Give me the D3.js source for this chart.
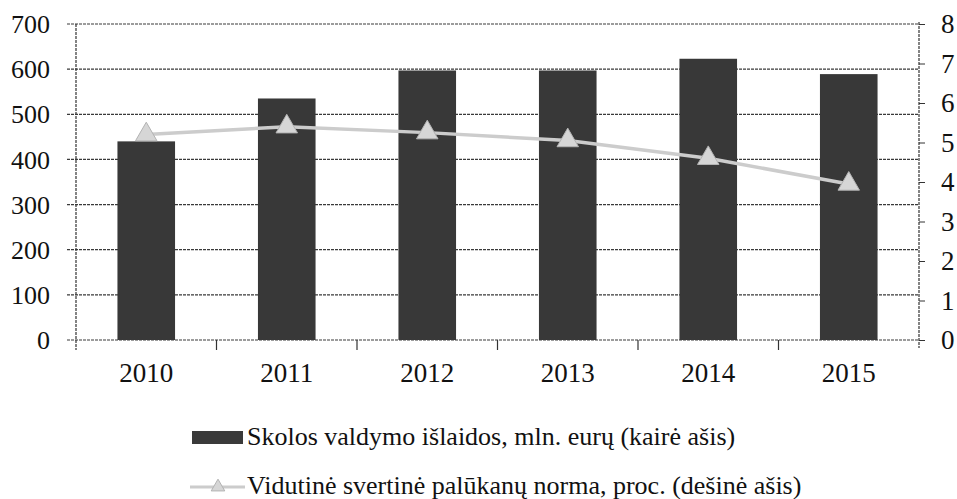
<!DOCTYPE html>
<html>
<head>
<meta charset="utf-8">
<script src="https://cdn.jsdelivr.net/npm/d3@7"></script>
<style>
  body { margin: 0; background: #fff; }
  svg text { font-family: "Liberation Serif", "DejaVu Serif", serif !important; fill: #111; }
</style>
</head>
<body>
<div id="chart"></div>
<script>
var years = ["2010", "2011", "2012", "2013", "2014", "2015"];
var costs = [440, 535, 597, 597, 623, 589];        // mln. eur, left axis
var rates = [5.2, 5.4, 5.25, 5.05, 4.6, 3.95];     // proc., right axis
var leftTicks = [0, 100, 200, 300, 400, 500, 600, 700];
var rightTicks = [0, 1, 2, 3, 4, 5, 6, 7, 8];
var legendLabels = ["Skolos valdymo išlaidos, mln. eurų (kairė ašis)",
                    "Vidutinė svertinė palūkanų norma, proc. (dešinė ašis)"];

var width = 957, height = 499;
var plotLeft = 76, plotRight = 919, plotTop = 24, plotBottom = 340;
var serif = "'Liberation Serif', 'DejaVu Serif', serif";

var svg = d3.select("#chart").append("svg")
  .attr("width", width)
  .attr("height", height)
  .style("font-family", serif);

var x = d3.scaleBand().domain(years).range([plotLeft, plotRight]).paddingInner(0.59).paddingOuter(0.295);
var yL = d3.scaleLinear().domain([0, 700]).range([plotBottom, plotTop]);
var yR = d3.scaleLinear().domain([0, 8]).range([plotBottom, plotTop]);

// gridlines
svg.append("g").selectAll("line")
  .data(leftTicks)
  .enter().append("line")
  .attr("x1", plotLeft - 9).attr("x2", plotRight)
  .attr("y1", function (d) { return yL(d); })
  .attr("y2", function (d) { return yL(d); })
  .style("stroke", "#3a3a3a")
  .style("stroke-width", 1.2)
  .style("stroke-dasharray", "3,1");

// left axis
var gL = svg.append("g").attr("transform", "translate(" + plotLeft + ",0)")
  .call(d3.axisLeft(yL).tickValues(leftTicks).tickSize(0).tickPadding(26));
gL.attr("font-family", null);
gL.select(".domain").remove();
gL.append("line").attr("y1", plotTop).attr("y2", plotBottom + 10)
  .style("stroke", "#333").style("stroke-width", 1.2).style("stroke-dasharray", "3,1");
gL.selectAll("text").style("font-size", "26px").style("font-family", serif)
  .attr("dy", "0.33em").style("fill", "#111");

// right axis
var gR = svg.append("g").attr("transform", "translate(" + plotRight + ",0)")
  .call(d3.axisRight(yR).tickValues(rightTicks).tickSize(6).tickPadding(16));
gR.attr("font-family", null);
gR.select(".domain").remove();
gR.selectAll(".tick line").style("stroke", "#333");
gR.append("line").attr("y1", plotTop - 2).attr("y2", plotBottom + 8)
  .style("stroke", "#333").style("stroke-width", 1.2).style("stroke-dasharray", "3,1");
gR.selectAll("text").style("font-size", "27px").style("font-family", serif)
  .attr("dy", "0.33em").style("fill", "#111");

// bottom axis: ticks between categories
var step = x.step();
svg.append("g").selectAll("line")
  .data(years.slice(1))
  .enter().append("line")
  .attr("x1", function (d) { return x(d) + x.bandwidth() / 2 - step / 2; })
  .attr("x2", function (d) { return x(d) + x.bandwidth() / 2 - step / 2; })
  .attr("y1", plotBottom).attr("y2", plotBottom + 10)
  .style("stroke", "#333").style("stroke-width", 1.2);

svg.append("g").selectAll("text")
  .data(years)
  .enter().append("text")
  .attr("x", function (d) { return x(d) + x.bandwidth() / 2; })
  .attr("y", 382)
  .attr("text-anchor", "middle")
  .style("font-size", "27px")
  .style("font-family", serif)
  .text(function (d) { return d; });

// bars
svg.append("g").selectAll("rect")
  .data(costs)
  .enter().append("rect")
  .attr("x", function (d, i) { return x(years[i]); })
  .attr("y", function (d) { return yL(d); })
  .attr("width", x.bandwidth())
  .attr("height", function (d) { return yL(0) - yL(d); })
  .style("fill", "#383838");

// rate line
var line = d3.line()
  .x(function (d, i) { return x(years[i]) + x.bandwidth() / 2; })
  .y(function (d) { return yR(d); });

svg.append("path")
  .datum(rates)
  .attr("d", line)
  .style("fill", "none")
  .style("stroke", "#cccccc")
  .style("stroke-width", 3.5);

var tri = d3.symbol().type(d3.symbolTriangle).size(200);
svg.append("g").selectAll("path")
  .data(rates)
  .enter().append("path")
  .attr("d", tri)
  .attr("transform", function (d, i) {
    return "translate(" + (x(years[i]) + x.bandwidth() / 2) + "," + yR(d) + ")";
  })
  .style("fill", "#d6d6d6")
  .style("stroke", "#b3b3b3")
  .style("stroke-width", 1);

// legend
var lg = svg.append("g");
lg.append("rect")
  .attr("x", 192).attr("y", 431).attr("width", 51).attr("height", 13)
  .style("fill", "#3a3a3a");
lg.append("text")
  .attr("x", 247).attr("y", 445)
  .style("font-size", "26px")
  .style("font-family", serif)
  .text(legendLabels[0]);

lg.append("line")
  .attr("x1", 190).attr("x2", 245).attr("y1", 487).attr("y2", 487)
  .style("stroke", "#cccccc").style("stroke-width", 3);
lg.append("path")
  .attr("d", d3.symbol().type(d3.symbolTriangle).size(80))
  .attr("transform", "translate(218,487)")
  .style("fill", "#d6d6d6").style("stroke", "#b3b3b3");
lg.append("text")
  .attr("x", 247).attr("y", 494)
  .style("font-size", "26px")
  .style("font-family", serif)
  .text(legendLabels[1]);
</script>
</body>
</html>
